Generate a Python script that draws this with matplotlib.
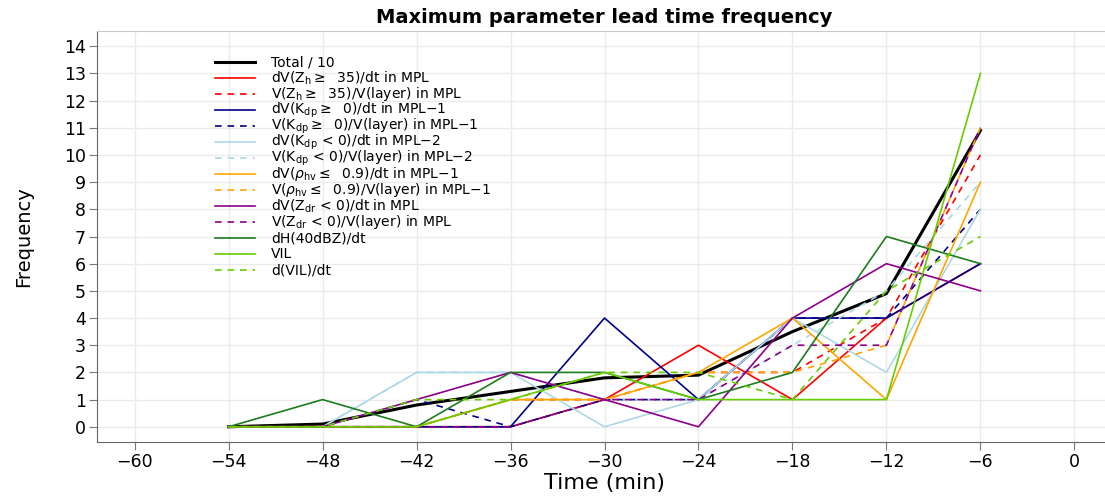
import numpy as np
import matplotlib
matplotlib.use("Agg")
import matplotlib.pyplot as plt
from matplotlib.lines import Line2D

# lead time bins (min)
time_min = [-54, -48, -42, -36, -30, -24, -18, -12, -6]

# frequency per parameter
total_10 = [0, 0.1, 0.8, 1.3, 1.8, 1.9, 3.5, 4.9, 10.9]
dvzh_dt = [0, 0, 0, 0, 1, 3, 1, 4, 6]
vzh_vl = [0, 0, 0, 1, 1, 2, 2, 4, 10]
dvkdp_pos_dt = [0, 0, 0, 0, 4, 1, 4, 4, 6]
vkdp_pos_vl = [0, 0, 1, 0, 1, 1, 4, 4, 8]
dvkdp_neg_dt = [0, 0, 2, 2, 0, 1, 4, 2, 8]
vkdp_neg_vl = [0, 0, 2, 2, 1, 1, 3, 5, 9]
dvrho_dt = [0, 0, 0, 1, 1, 2, 4, 1, 9]
vrho_vl = [0, 0, 0, 1, 1, 2, 2, 3, 11]
dvzdr_dt = [0, 0, 1, 2, 1, 0, 4, 6, 5]
vzdr_vl = [0, 0, 0, 0, 1, 1, 3, 3, 11]
dh40_dt = [0, 1, 0, 2, 2, 1, 2, 7, 6]
vil = [0, 0, 0, 1, 2, 1, 1, 1, 13]
dvil_dt = [0, 0, 1, 1, 2, 2, 1, 5, 7]

x_ticks = [-60, -54, -48, -42, -36, -30, -24, -18, -12, -6, 0]
y_ticks = list(range(0, 15))

series = [
    ("Total / 10", total_10, "black", "-"),
    (r"dV(Z$_\mathregular{h}$$\geq$  35)/dt in MPL", dvzh_dt, "#FF0000", "-"),
    (r"V(Z$_\mathregular{h}$$\geq$  35)/V(layer) in MPL", vzh_vl, "#FF0000", "--"),
    (r"dV(K$_\mathregular{dp}$$\geq$  0)/dt in MPL−1", dvkdp_pos_dt, "#00008B", "-"),
    (r"V(K$_\mathregular{dp}$$\geq$  0)/V(layer) in MPL−1", vkdp_pos_vl, "#00008B", "--"),
    (r"dV(K$_\mathregular{dp}$ < 0)/dt in MPL−2", dvkdp_neg_dt, "#ADD8E6", "-"),
    (r"V(K$_\mathregular{dp}$ < 0)/V(layer) in MPL−2", vkdp_neg_vl, "#ADD8E6", "--"),
    (r"dV($\rho_\mathregular{hv}$$\leq$  0.9)/dt in MPL−1", dvrho_dt, "#FFA500", "-"),
    (r"V($\rho_\mathregular{hv}$$\leq$  0.9)/V(layer) in MPL−1", vrho_vl, "#FFA500", "--"),
    (r"dV(Z$_\mathregular{dr}$ < 0)/dt in MPL", dvzdr_dt, "#8B008B", "-"),
    (r"V(Z$_\mathregular{dr}$ < 0)/V(layer) in MPL", vzdr_vl, "#8B008B", "--"),
    ("dH(40dBZ)/dt", dh40_dt, "#1E7B1E", "-"),
    ("VIL", vil, "#66CD00", "-"),
    ("d(VIL)/dt", dvil_dt, "#66CD00", "--"),
]

plt.rcParams["font.family"] = ["DejaVu Sans"]
plt.rcParams["mathtext.fontset"] = "dejavusans"

W, H = 1105, 499
fig = plt.figure(figsize=(W / 100, H / 100), dpi=100)
ax = fig.add_axes([97 / W, 57 / H, (1112 - 97) / W, 411 / H])

for label, values, color, ls in series:
    lw = 2.2 if color == "black" else 1.2
    line, = ax.plot(time_min, values, color=color, lw=lw, ls=ls, label=label)
    if ls == "--":
        line.set_dashes((4, 3.5))

ax.set_xlim(-62.4, 2.4)
ax.set_ylim(-0.56, 14.56)
ax.set_xticks(x_ticks)
ax.set_xticklabels([str(t).replace("-", "−") for t in x_ticks])
ax.set_yticks(y_ticks)
ax.grid(True, color="#EBEBEB", lw=1)
ax.set_axisbelow(True)

for side in ["left", "bottom"]:
    ax.spines[side].set_color("#666666")
ax.spines["top"].set_color("#C8C8C8")
ax.spines["right"].set_visible(False)
ax.tick_params(axis="both", direction="out", length=6, color="#777777",
               labelsize=12.5, pad=2)

ax.set_title("Maximum parameter lead time frequency", fontsize=14,
             fontweight="bold", pad=6)
ax.set_xlabel("Time (min)", fontsize=16, labelpad=1)
ax.set_ylabel("Frequency", fontsize=14, labelpad=22)

# legend drawn row by row so the spacing is even (16 px per row)
row0, pitch = 62, 16
for i, (label, values, color, ls) in enumerate(series):
    yy = 1 - (row0 + i * pitch) / H
    lw = 2.2 if color == "black" else 1.2
    handle = Line2D([215 / W, 255 / W], [yy, yy], transform=fig.transFigure,
                    color=color, lw=lw, ls=ls)
    if ls == "--":
        handle.set_dashes((4, 3.5))
    fig.add_artist(handle)
    fig.text(271 / W, yy, label, fontsize=10, va="center", ha="left")

fig.savefig("out.png", dpi=100)
